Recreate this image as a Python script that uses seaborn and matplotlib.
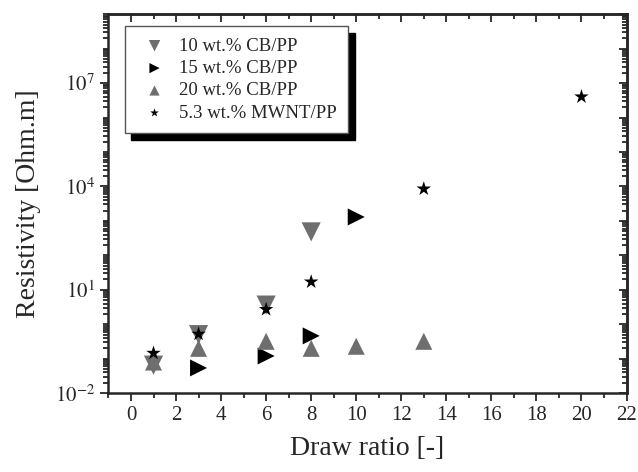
import numpy as np
import pandas as pd
import matplotlib
matplotlib.use("Agg")
import matplotlib.pyplot as plt
from matplotlib.ticker import LogLocator, FixedLocator, MultipleLocator, NullFormatter
import seaborn as sns

# data
cb10_x = [1, 3, 6, 8]
cb10_y = [0.065, 0.5, 3.6, 480]
cb15_x = [3, 6, 8, 10]
cb15_y = [0.054, 0.12, 0.46, 1300]
cb20_x = [1, 3, 6, 8, 10, 13]
cb20_y = [0.08, 0.2, 0.32, 0.2, 0.23, 0.32]
mwnt_x = [1, 3, 6, 8, 13, 20]
mwnt_y = [0.145, 0.52, 2.7, 17, 8500, 4e6]

labels = ["10 wt.% CB/PP", "15 wt.% CB/PP", "20 wt.% CB/PP", "5.3 wt.% MWNT/PP"]

sns.set_style("ticks")
plt.rcParams["font.family"] = ["Liberation Serif", "DejaVu Serif"]
plt.rcParams["mathtext.fontset"] = "stix"

fig = plt.figure(figsize=(6.38, 4.72), dpi=100)
ax = fig.add_axes([0.17, 0.167, 0.812, 0.803])

gray = "#6e6e6e"
series = [
    (cb10_x, cb10_y, labels[0], "v", gray, 190),
    (cb15_x, cb15_y, labels[1], ">", "black", 150),
    (cb20_x, cb20_y, labels[2], "^", gray, 150),
    (mwnt_x, mwnt_y, labels[3], "*", "black", 120),
]
for xs, ys, lab, m, c, s in series:
    df = pd.DataFrame({"x": xs, "y": ys})
    sns.scatterplot(data=df, x="x", y="y", ax=ax, marker=m, color=c, s=s,
                    edgecolor="none", label=lab, zorder=3)

ax.set_yscale("log")
ax.set_xlim(-1, 22)
ax.set_ylim(1e-2, 1e9)
ax.xaxis.set_major_locator(MultipleLocator(2))
ax.xaxis.set_minor_locator(MultipleLocator(1))
ax.yaxis.set_major_locator(FixedLocator([1e-2, 1e1, 1e4, 1e7]))
ax.yaxis.set_minor_locator(LogLocator(base=10, subs=np.arange(1, 10), numticks=40))
ax.yaxis.set_minor_formatter(NullFormatter())
ax.set_yticklabels([r"$10^{-2}$", r"$10^{1}$", r"$10^{4}$", r"$10^{7}$"])

# outward ticks on bottom/left, inward mirrored ticks on top/right
ax.tick_params(which="both", direction="out", width=1.3)
ax.tick_params(which="major", length=6, labelsize=15)
ax.tick_params(which="minor", length=3.5)

top = ax.secondary_xaxis("top")
top.xaxis.set_major_locator(MultipleLocator(2))
top.xaxis.set_minor_locator(MultipleLocator(1))
top.tick_params(which="both", direction="in", labeltop=False, width=1.3)
top.tick_params(which="major", length=6)
top.tick_params(which="minor", length=3.5)

right = ax.secondary_yaxis("right")
right.yaxis.set_major_locator(FixedLocator([10.0 ** k for k in range(-2, 10)]))
right.yaxis.set_minor_locator(LogLocator(base=10, subs=np.arange(2, 10), numticks=40))
right.tick_params(which="both", direction="in", labelright=False, width=1.3)
right.tick_params(which="major", length=6)
right.tick_params(which="minor", length=3.5)

for a in (ax, top, right):
    for sp in a.spines.values():
        sp.set_linewidth(1.8)

ax.set_xlabel("Draw ratio [-]", fontsize=20, labelpad=8)
ax.set_ylabel("Resistivity [Ohm.m]", fontsize=20, labelpad=10)

leg = ax.legend(loc="upper left", bbox_to_anchor=(0.031, 0.968), borderaxespad=0,
                fontsize=13.5, frameon=True, fancybox=False, markerscale=0.6,
                shadow={"color": "black", "alpha": 1, "ox": 5, "oy": -5},
                handletextpad=0.3, borderpad=0.6, labelspacing=0.28)
leg.get_frame().set_edgecolor("#555555")
leg.get_frame().set_linewidth(1.0)
leg.get_frame().set_alpha(1)

fig.savefig("out.png", dpi=100)
